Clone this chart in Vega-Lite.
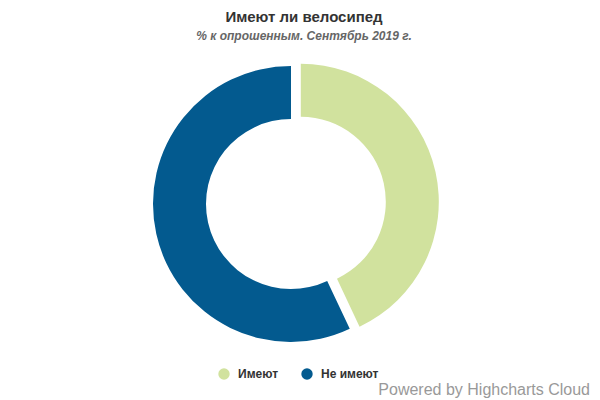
{
  "$schema": "https://vega.github.io/schema/vega-lite/v6.json",
  "background": "white",
  "padding": {"top": 10, "left": 0, "right": 10, "bottom": 0},
  "autosize": {"type": "pad"},
  "title": {
    "text": "Имеют ли велосипед",
    "subtitle": "% к опрошенным. Сентябрь 2019 г.",
    "font": "Liberation Sans",
    "fontSize": 15,
    "fontWeight": "bold",
    "color": "#333333",
    "subtitleFont": "Liberation Sans",
    "subtitleFontSize": 12,
    "subtitleFontStyle": "italic",
    "subtitleFontWeight": "bold",
    "subtitleColor": "#666666",
    "subtitlePadding": 6,
    "anchor": "middle",
    "dx": 9,
    "offset": 20
  },
  "vconcat": [
    {
      "width": 582,
      "height": 284,
      "title": {
        "text": "Powered by Highcharts Cloud",
        "orient": "bottom",
        "anchor": "end",
        "font": "Liberation Sans",
        "fontSize": 16,
        "fontWeight": "normal",
        "color": "#999999",
        "dx": 8,
        "offset": 36
      },
      "data": {
        "values": [
          {"cat": "Имеют", "pct": 43, "ord": 1},
          {"cat": "Не имеют", "pct": 57, "ord": 2}
        ]
      },
      "mark": {
        "type": "arc",
        "outerRadius": 138,
        "innerRadius": 85,
        "xOffset": {"expr": "datum.cat === 'Имеют' ? 9.8 : 0"},
        "yOffset": {"expr": "datum.cat === 'Имеют' ? -2.2 : 0"}
      },
      "encoding": {
        "theta": {"field": "pct", "type": "quantitative", "stack": true},
        "order": {"field": "ord", "type": "quantitative"},
        "color": {
          "field": "cat",
          "type": "nominal",
          "scale": {"domain": ["Имеют", "Не имеют"], "range": ["#d1e29e", "#035a8f"]},
          "legend": {
            "title": null,
            "orient": "none",
            "direction": "horizontal",
            "legendX": 218,
            "legendY": 306,
            "symbolType": "circle",
            "symbolSize": 130,
            "symbolStrokeWidth": 0,
            "symbolOpacity": 1,
            "labelFont": "Liberation Sans",
            "labelFontSize": 12,
            "labelFontWeight": "bold",
            "labelColor": "#333333",
            "labelOffset": 8,
            "columnPadding": 22
          }
        }
      }
    }
  ],
  "config": {"view": {"stroke": null}, "concat": {"spacing": 0}}
}
